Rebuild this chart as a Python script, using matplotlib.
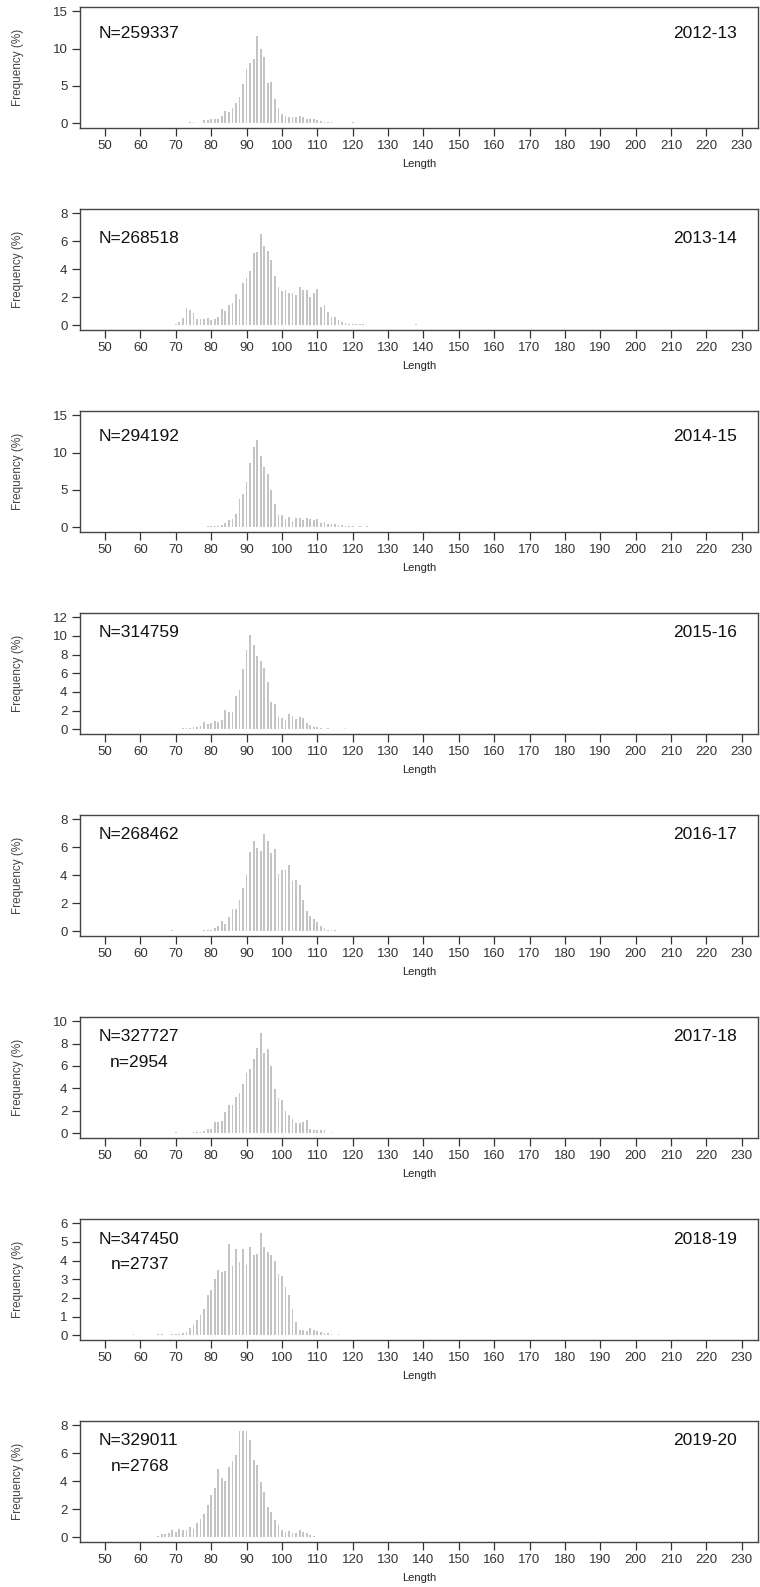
import numpy as np
import matplotlib.pyplot as plt

plt.rcParams['font.family'] = ['Liberation Sans', 'DejaVu Sans']

# -------------------------
# DATA (frequency % per length class)
# -------------------------

seasons = ["2012-13", "2013-14", "2014-15", "2015-16",
           "2016-17", "2017-18", "2018-19", "2019-20"]
n_total = [259337, 268518, 294192, 314759, 268462, 327727, 347450, 329011]
n_sampled = [None, None, None, None, None, 2954, 2737, 2768]
y_max = [15, 8, 15, 12, 8, 10, 6, 8]
y_step = [5, 2, 5, 2, 2, 2, 1, 2]

start_1213 = 74
freq_1213 = [0.13, 0.13, 0, 0, 0.45, 0.45, 0.6, 0.6, 0.6, 1.0,
             1.7, 1.5, 2.1, 2.65, 3.5, 5.3, 7.3, 8.0, 8.65, 11.7,
             9.9, 8.9, 5.37, 5.5, 3.27, 2.1, 1.3, 0.9, 0.8, 0.85,
             0.85, 0.9, 0.8, 0.55, 0.55, 0.6, 0.45, 0.27, 0.15, 0.15,
             0.1, 0, 0, 0, 0, 0, 0.1]

start_1314 = 63
freq_1314 = [0.05, 0, 0, 0, 0, 0.05, 0, 0.08, 0.2, 0.5,
             1.2, 1.08, 0.9, 0.44, 0.44, 0.46, 0.5, 0.35, 0.46, 0.58,
             1.15, 1.03, 1.44, 1.6, 2.2, 1.9, 3.0, 3.34, 3.9, 5.15,
             5.2, 6.53, 5.63, 5.27, 4.65, 3.55, 2.7, 2.46, 2.5, 2.3,
             2.3, 2.13, 2.7, 2.53, 2.49, 2.0, 2.3, 2.58, 1.27, 1.46,
             0.96, 0.56, 0.56, 0.39, 0.22, 0.15, 0.1, 0.06, 0.06, 0.06,
             0.06, 0.05, 0.05, 0, 0, 0, 0, 0, 0, 0,
             0, 0, 0, 0, 0, 0.08]

start_1415 = 79
freq_1415 = [0.2, 0.2, 0.2, 0.2, 0.25, 0.6, 0.9, 1.14, 1.8, 3.78,
             4.5, 6.0, 8.55, 10.7, 11.7, 9.6, 8.0, 7.07, 4.93, 3.05,
             1.6, 1.6, 1.1, 1.36, 0.87, 1.23, 1.23, 0.96, 1.23, 1.14,
             0.9, 1.14, 0.6, 0.65, 0.42, 0.38, 0.38, 0.25, 0.25, 0.2,
             0.2, 0.2, 0, 0.15, 0, 0.15]

start_1516 = 72
freq_1516 = [0.08, 0.1, 0.1, 0.2, 0.25, 0.3, 0.82, 0.54, 0.68, 0.9,
             0.82, 0.96, 2.07, 1.82, 1.82, 3.6, 4.18, 6.43, 8.5, 10.07,
             9.03, 7.8, 7.3, 6.54, 5.07, 2.9, 2.71, 1.36, 1.25, 1.04,
             1.6, 1.4, 1.1, 1.32, 1.18, 0.68, 0.4, 0.28, 0.2, 0.14,
             0, 0.1, 0, 0, 0, 0, 0.1]

start_1617 = 69
freq_1617 = [0.08, 0, 0, 0.05, 0, 0.05, 0.05, 0.05, 0, 0.1,
             0.1, 0.12, 0.26, 0.38, 0.74, 0.5, 1.0, 1.6, 1.6, 2.26,
             3.07, 4.0, 5.65, 6.46, 5.94, 5.75, 6.92, 6.46, 5.6, 5.87,
             4.1, 4.4, 4.4, 4.7, 3.6, 3.68, 3.32, 2.26, 1.45, 1.1,
             0.9, 0.67, 0.38, 0.24, 0.12, 0.1, 0.1, 0, 0.05, 0.05,
             0.05, 0.05, 0.05]

start_1718 = 70
freq_1718 = [0.15, 0, 0, 0, 0.06, 0.1, 0.12, 0.15, 0.24, 0.36,
             0.42, 1.0, 1.0, 1.13, 1.9, 2.5, 2.5, 3.2, 3.55, 4.4,
             5.37, 5.73, 6.6, 7.65, 8.96, 7.2, 7.56, 5.96, 3.95, 3.15,
             2.93, 1.95, 1.6, 1.3, 0.95, 0.92, 1.0, 1.15, 0.39, 0.33,
             0.33, 0.3, 0.3, 0, 0.15]

start_1819 = 58
freq_1819 = [0.05, 0, 0, 0, 0, 0, 0, 0.05, 0.05, 0,
             0, 0.05, 0.05, 0.07, 0.1, 0.16, 0.4, 0.57, 0.79, 1.09,
             1.43, 2.13, 2.43, 3.0, 3.5, 3.37, 3.45, 4.88, 3.7, 4.62,
             3.93, 4.6, 3.75, 4.7, 4.28, 4.37, 5.5, 4.7, 4.48, 4.32,
             4.0, 3.3, 3.15, 2.58, 2.13, 1.4, 0.7, 0.3, 0.3, 0.2,
             0.41, 0.3, 0.23, 0.16, 0.1, 0.1, 0.08, 0, 0.05]

start_1920 = 65
freq_1920 = [0.1, 0.2, 0.25, 0.3, 0.5, 0.4, 0.6, 0.55, 0.5, 0.75,
             0.6, 1.0, 1.3, 1.64, 2.3, 3.05, 3.5, 4.86, 4.2, 3.98,
             5.0, 5.44, 5.86, 7.6, 7.6, 7.6, 6.95, 5.5, 5.16, 3.95,
             3.2, 2.13, 1.8, 1.25, 0.9, 0.5, 0.4, 0.45, 0.3, 0.3,
             0.5, 0.4, 0.3, 0.15, 0.1, 0.05, 0.05, 0.05, 0, 0,
             0, 0, 0, 0, 0, 0.05]

starts = [start_1213, start_1314, start_1415, start_1516,
          start_1617, start_1718, start_1819, start_1920]
freqs = [freq_1213, freq_1314, freq_1415, freq_1516,
         freq_1617, freq_1718, freq_1819, freq_1920]

# -------------------------
# LAYOUT (pixels)
# -------------------------

W, H = 760, 1587
ax_left, ax_width = 80, 678
ax_height = 121
first_top, spacing = 6.7, 202
label_top = [26.6, 29.4, 26, 20, 19.7, 20, 21, 19.3]

fig = plt.figure(figsize=(W / 100, H / 100), dpi=100)

for i in range(8):
    top = first_top + i * spacing
    ax = fig.add_axes([ax_left / W, 1 - (top + ax_height) / H,
                       ax_width / W, ax_height / H])
    lengths = np.arange(starts[i], starts[i] + len(freqs[i]))
    ax.bar(lengths, freqs[i], width=0.5, color='#c4c4c4', linewidth=0)

    m = y_max[i]
    ax.set_xlim(42.9, 234.6)
    ax.set_ylim(-0.04 * m, 1.04 * m)
    ax.set_xticks(np.arange(50, 231, 10))
    ax.set_yticks(np.arange(0, m + 0.01, y_step[i]))
    ax.tick_params(direction='out', length=6, width=0.9, colors='#333333',
                   labelsize=9.5, pad=3)
    for s in ax.spines.values():
        s.set_color('#444444')
        s.set_linewidth(1.0)

    ax.set_xlabel("Length", fontsize=8, color='#222222', labelpad=5)
    ax.set_ylabel("Frequency (%)", fontsize=8.5, color='#444444')
    ax.yaxis.set_label_coords(-0.083, 0.5)

    fy = 1 - label_top[i] / ax_height
    ax.text(0.028, fy, f"N={n_total[i]}", transform=ax.transAxes,
            fontsize=12.5, va='center', ha='left', color='#111111')
    ax.text(0.969, fy, seasons[i], transform=ax.transAxes,
            fontsize=12.5, va='center', ha='right', color='#111111')
    if n_sampled[i] is not None:
        ax.text(0.088, 1 - 46 / ax_height, f"n={n_sampled[i]}",
                transform=ax.transAxes, fontsize=12.5, va='center',
                ha='center', color='#111111')

fig.savefig("out.png", dpi=100, facecolor='white')
